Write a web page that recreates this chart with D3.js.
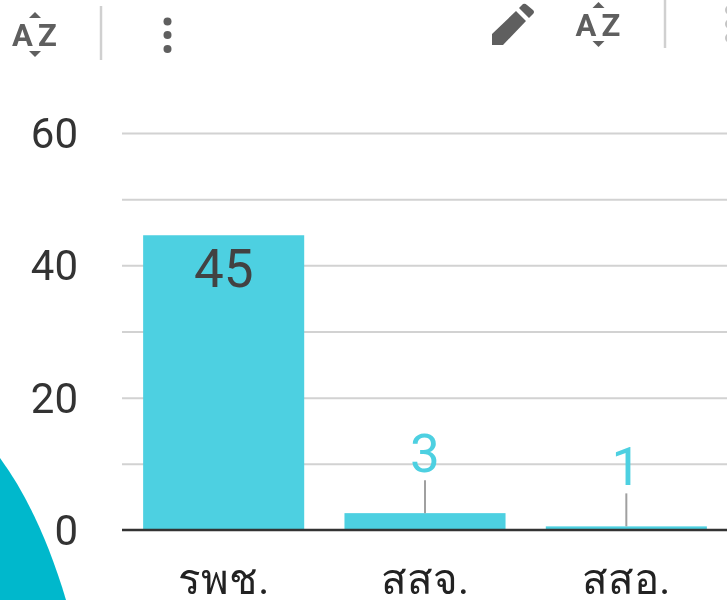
<!DOCTYPE html>
<html>
<head>
<meta charset="utf-8">
<script src="https://cdn.jsdelivr.net/npm/d3@7"></script>
<style>
body { margin:0; background:#fff; overflow:hidden; }
svg { display:block; filter:blur(0.7px); }
text { font-family:Roboto, "Noto Sans", sans-serif; }
</style>
</head>
<body>
<div id="chart-area"></div>
<script>
// values
var categories = ["รพช.", "สสจ.", "สสอ."]
var counts = [45, 3, 1]
var yTicks = [0, 10, 20, 30, 40, 50, 60]
var yLabels = [0, 20, 40, 60]

var W = 727, H = 600
var barColor = "#4dd0e1", tealColor = "#00b8cc", iconColor = "#5f5f5f"
var barDrop = 3 // bars sit a little under the gridlines in the screenshot

var svg = d3.select("#chart-area").append("svg")
    .attr("width", W)
    .attr("height", H)

// teal blob in the bottom left corner
svg.append("path")
    .attr("d", "M0,458 C28,496 50,546 66,600 L0,600 Z")
    .attr("fill", tealColor)

var y = d3.scaleLinear().domain([0, 60]).range([530, 133])
var x = d3.scaleBand().domain(categories).range([123, 727]).paddingInner(0.2).paddingOuter(0.1)

// gridlines
svg.selectAll("line.grid")
    .data(yTicks.filter(d => d > 0))
    .enter().append("line")
    .attr("class", "grid")
    .attr("x1", 122).attr("x2", W)
    .attr("y1", d => y(d) + 0.5).attr("y2", d => y(d) + 0.5)
    .attr("stroke", "#d2d2d2")
    .attr("stroke-width", 2)

svg.selectAll("text.ylab")
    .data(yLabels)
    .enter().append("text")
    .attr("class", "ylab")
    .attr("x", 78)
    .attr("y", d => y(d) + 15)
    .attr("text-anchor", "end")
    .attr("font-size", 42)
    .attr("fill", "#333")
    .text(d => d)

// bars
svg.selectAll("rect.bar")
    .data(counts)
    .enter().append("rect")
    .attr("class", "bar")
    .attr("x", (d, i) => x(categories[i]))
    .attr("width", x.bandwidth())
    .attr("y", d => y(d) + barDrop)
    .attr("height", d => y(0) - y(d) - barDrop)
    .attr("fill", barColor)

// baseline
svg.append("line")
    .attr("x1", 122).attr("x2", W)
    .attr("y1", y(0)).attr("y2", y(0))
    .attr("stroke", "#333")
    .attr("stroke-width", 2.5)

// leader lines for the small bars
svg.selectAll("line.leader")
    .data(counts.filter(d => d < 10))
    .enter().append("line")
    .attr("class", "leader")
    .attr("x1", (d, i) => x(categories[i + 1]) + x.bandwidth() / 2)
    .attr("x2", (d, i) => x(categories[i + 1]) + x.bandwidth() / 2)
    .attr("y1", d => y(d) + barDrop - 33)
    .attr("y2", d => y(d) + barDrop)
    .attr("stroke", "#a0a0a0")
    .attr("stroke-width", 2)

// value labels
svg.selectAll("text.val")
    .data(counts)
    .enter().append("text")
    .attr("class", "val")
    .attr("x", (d, i) => x(categories[i]) + x.bandwidth() / 2)
    .attr("y", d => d > 10 ? y(d) + barDrop + 52 : y(d) + barDrop - 41)
    .attr("text-anchor", "middle")
    .attr("font-size", 53)
    .attr("fill", d => d > 10 ? "#424242" : barColor)
    .text(d => d)

// category labels
svg.selectAll("text.cat")
    .data(categories)
    .enter().append("text")
    .attr("class", "cat")
    .attr("x", d => x(d) + x.bandwidth() / 2)
    .attr("y", 594)
    .attr("text-anchor", "middle")
    .attr("font-size", 42)
    .attr("fill", "#222")
    .text(d => d)

// toolbar icons
function sortIcon(cx, cy) {
    var g = svg.append("g").attr("transform", "translate(" + cx + "," + cy + ")").attr("fill", iconColor)
    g.append("text").attr("x", -12.5).attr("y", 13).attr("text-anchor", "middle")
        .attr("font-size", 31).attr("font-weight", 700).text("A")
    g.append("text").attr("x", 12.5).attr("y", 13).attr("text-anchor", "middle")
        .attr("font-size", 31).attr("font-weight", 700).text("Z")
    g.append("path").attr("d", "M-6,-15 L0,-21 L6,-15 Z")
    g.append("path").attr("d", "M-6,18 L6,18 L0,24 Z")
}
sortIcon(35, 33)
sortIcon(598.5, 23)

svg.append("line").attr("x1", 101).attr("x2", 101).attr("y1", 6).attr("y2", 60)
    .attr("stroke", "#d0d0d0").attr("stroke-width", 2.5)
svg.append("line").attr("x1", 665).attr("x2", 665).attr("y1", 0).attr("y2", 48)
    .attr("stroke", "#d0d0d0").attr("stroke-width", 2.5)

svg.selectAll("circle.dot")
    .data([21.5, 35, 49])
    .enter().append("circle")
    .attr("class", "dot")
    .attr("cx", 167.5)
    .attr("cy", d => d)
    .attr("r", 4)
    .attr("fill", iconColor)

// pencil
svg.append("path")
    .attr("d", "M492,45 L492,34 L516,11 L526,21 L503,45 Z M519,8 L523,4 Q525,3 527,5 L533,10 Q535,12 533,14 L529,18 Z")
    .attr("fill", iconColor)

// three dots of the next icon, cut off at the right edge
svg.selectAll("circle.edge")
    .data([10, 24, 38])
    .enter().append("circle")
    .attr("class", "edge")
    .attr("cx", 730)
    .attr("cy", d => d)
    .attr("r", 5)
    .attr("fill", "#c4c4c4")
</script>
</body>
</html>
